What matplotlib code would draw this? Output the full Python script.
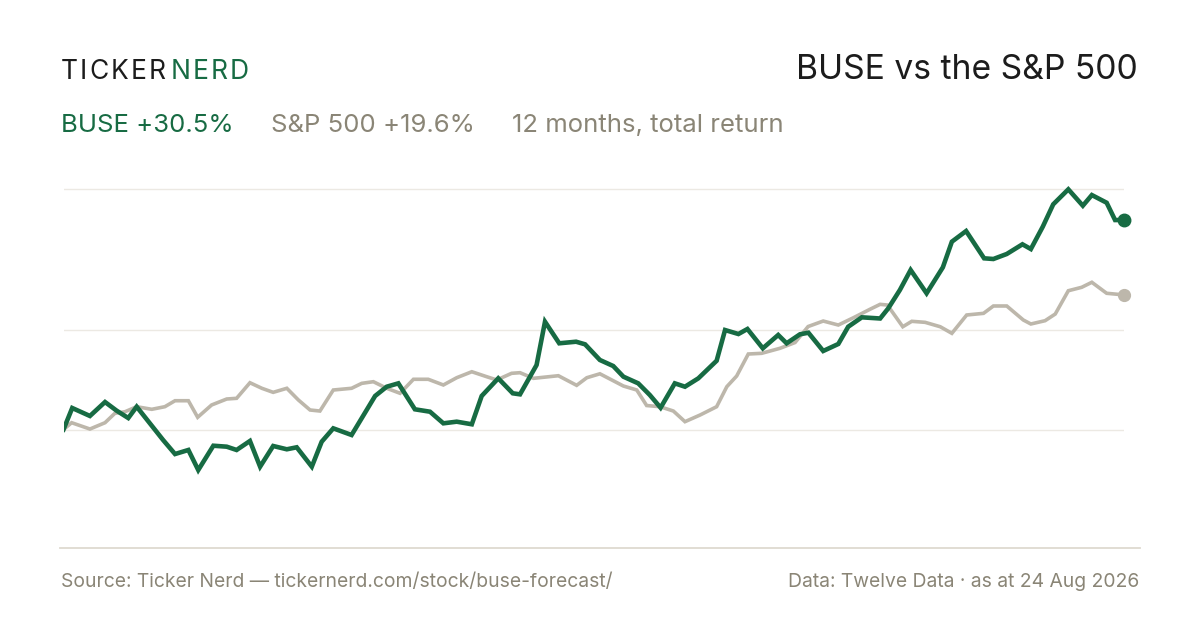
import matplotlib
matplotlib.use("Agg")
import matplotlib.pyplot as plt
from matplotlib.lines import Line2D

# 12 months, total return in % (x = day of the period)
buse_day = [0, 3.0, 9.1, 14.3, 18.3, 22.3, 25.2, 34.3, 38.4, 43.0, 46.4, 51.6, 56.2, 59.6,
            64.2, 67.7, 72.2, 76.9, 80.3, 85.5, 88.9, 92.9, 99.2, 107.3, 111.3, 115.3,
            121.0, 126.2, 130.8, 135.4, 140.6, 144.0, 149.7, 154.7, 157.2, 162.9, 165.8,
            170.7, 176.5, 179.6, 184.7, 189.3, 192.8, 197.9, 201.9, 205.6, 210.5, 214.0,
            218.6, 224.9, 227.8, 232.4, 235.5, 240.8, 246.1, 249.0, 253.6, 256.5, 261.6,
            266.8, 270.2, 274.9, 281.2, 284.0, 288.0, 291.7, 297.2, 302.8, 305.9, 310.8,
            317.0, 320.2, 324.8, 330.2, 333.1, 337.2, 340.8, 346.0, 351.0, 354.1, 359.2,
            362.1, 365]
buse_ret = [0.0, 3.13, 1.97, 4.00, 2.74, 1.67, 3.32, -1.53, -3.57, -2.98, -5.90, -2.36,
            -2.50, -2.98, -1.67, -5.41, -2.40, -2.88, -2.59, -5.41, -1.78, 0.17, -0.80,
            4.88, 6.23, 6.72, 2.94, 2.59, 0.90, 1.14, 0.76, 4.88, 7.45, 5.27, 5.12, 9.39,
            15.69, 12.55, 12.78, 12.40, 10.12, 9.24, 7.69, 6.72, 5.02, 3.17, 6.72, 6.23,
            7.45, 10.01, 14.48, 13.90, 14.63, 11.82, 13.76, 12.55, 13.86, 14.09, 11.43,
            12.45, 14.96, 16.33, 16.16, 17.64, 20.31, 23.22, 19.83, 23.61, 27.34, 28.89,
            24.92, 24.82, 25.55, 26.96, 26.27, 29.52, 32.78, 34.96, 32.58, 34.13, 33.01,
            30.49, 30.5]

spx_day = [0, 2.8, 9.1, 14.3, 17.7, 21.2, 25.2, 30.4, 34.9, 38.4, 43.0, 46.2, 51.0, 56.2,
           59.6, 64.2, 68.3, 72.2, 76.9, 80.9, 84.9, 88.3, 92.9, 99.2, 102.7, 106.7,
           111.3, 115.9, 120.5, 125.6, 130.8, 135.4, 140.6, 145.7, 149.2, 154.3, 157.2,
           161.8, 170.4, 176.7, 180.2, 184.7, 188.8, 192.8, 197.4, 200.8, 205.4, 210.0,
           214.0, 219.2, 224.9, 228.4, 231.8, 235.8, 240.4, 246.7, 251.9, 256.4, 261.6,
           266.8, 272.0, 277.7, 281.2, 283.7, 289.0, 292.1, 296.7, 301.9, 305.9, 311.0,
           316.8, 320.2, 324.8, 330.5, 333.1, 338.0, 341.5, 346.0, 350.6, 354.1, 359.2, 365]
spx_ret = [0.0, 0.99, 0.07, 0.99, 2.36, 2.59, 3.32, 2.94, 3.32, 4.19, 4.19, 1.78, 3.57,
           4.44, 4.54, 6.81, 6.00, 5.41, 6.00, 4.29, 2.84, 2.69, 5.75, 6.00, 6.72, 6.96,
           6.00, 5.27, 7.31, 7.31, 6.48, 7.54, 8.41, 7.69, 7.21, 8.18, 8.27, 7.45, 7.83,
           6.43, 7.54, 8.11, 7.21, 6.33, 5.75, 3.49, 3.32, 2.69, 1.14, 2.11, 3.32, 6.23,
           7.79, 10.99, 11.09, 11.82, 12.66, 14.99, 15.79, 15.21, 16.27, 17.50, 18.22,
           18.12, 14.96, 15.75, 15.60, 14.96, 14.00, 16.67, 16.91, 17.98, 17.98, 15.94,
           15.36, 15.84, 16.81, 20.20, 20.70, 21.43, 19.83, 19.6]

grid_vals = [0, 14.5, 35]

GREEN = "#176b43"
SAND = "#bdb7ab"
INK = "#1c1c1c"
MUTED = "#8a8576"
W, H = 1200, 630

plt.rcParams['font.family'] = ['Inter', 'DejaVu Sans']

fig = plt.figure(figsize=(12, 6.3), dpi=100)
fig.patch.set_facecolor("white")


def px(x, y):
    return x / W, 1 - y / H


# plot area: x 63.5..1123.5 px, y 180..480 px
ax = fig.add_axes([63.5 / W, 1 - 480 / H, 1060 / W, 300 / H])
ax.set_xlim(0, 365)
ax.set_ylim(-7.35, 36.32)
for g in grid_vals:
    ax.axhline(g, color="#ece9e3", lw=1.0, zorder=0)
ax.plot(spx_day, spx_ret, color=SAND, lw=2.6, solid_joinstyle="miter", zorder=2)
ax.plot(buse_day, buse_ret, color=GREEN, lw=3.3, solid_joinstyle="miter", zorder=3)
ax.plot(spx_day[-1], spx_ret[-1], "o", ms=8.5, color=SAND, clip_on=False, zorder=4)
ax.plot(buse_day[-1], buse_ret[-1], "o", ms=9, color=GREEN, clip_on=False, zorder=5)
ax.axis("off")

# separator above the footer
fig.add_artist(Line2D([60 / W, 1140 / W], [1 - 548 / H] * 2, color="#dedad0", lw=1.3))

renderer = fig.canvas.get_renderer()


def run(x, y, parts, size, gap, track=0):
    # draw texts one after another on the same baseline
    for s, c in parts:
        chunks = list(s) if track else [s]
        for ch in chunks:
            t = fig.text(*px(x, y), ch, color=c, fontsize=size, va="baseline", ha="left")
            bb = t.get_window_extent(renderer)
            x = x + bb.width + track
        x = x + gap
    return x


run(61, 79, [("TICKER", INK), ("NERD", GREEN)], 19, 3, track=2.1)
fig.text(*px(1138, 79), "BUSE vs the S&P 500", color=INK, fontsize=24.2,
         va="baseline", ha="right")
run(61, 132, [("BUSE +30.5%", GREEN), ("S&P 500 +19.6%", MUTED),
              ("12 months, total return", MUTED)], 18.5, 37)
fig.text(*px(61, 587), "Source: Ticker Nerd \u2014 tickernerd.com/stock/buse-forecast/",
         color=MUTED, fontsize=13.9, va="baseline", ha="left")
fig.text(*px(1139, 587), "Data: Twelve Data \u00b7 as at 24 Aug 2026",
         color=MUTED, fontsize=13.9, va="baseline", ha="right")

fig.savefig("out.png", dpi=100, facecolor="white")
